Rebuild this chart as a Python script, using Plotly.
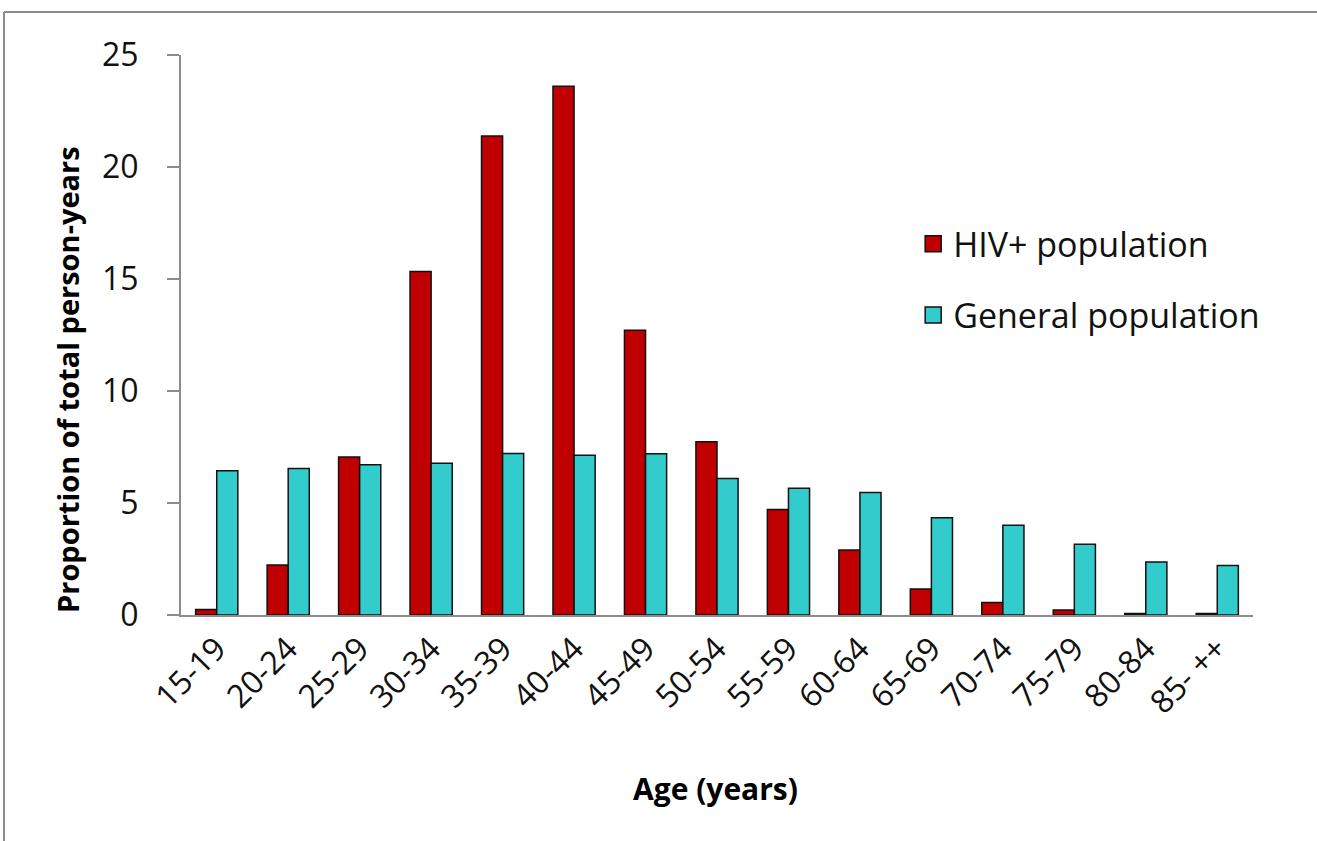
import plotly.graph_objects as go

# Age groups and share of total person-years (%) for each population
age_groups = ["15-19", "20-24", "25-29", "30-34", "35-39", "40-44", "45-49",
              "50-54", "55-59", "60-64", "65-69", "70-74", "75-79", "80-84", "85- ++"]
hiv_pos = [0.25, 2.23, 7.05, 15.34, 21.38, 23.61, 12.71,
           7.73, 4.71, 2.90, 1.16, 0.56, 0.22, 0.07, 0.07]
general = [6.44, 6.54, 6.71, 6.78, 7.21, 7.13, 7.20,
           6.09, 5.66, 5.47, 4.34, 4.01, 3.16, 2.37, 2.21]
series_names = ["HIV+ population", "General population"]
series_colors = ["#C00000", "#33CCCC"]

FONT = "Open Sans"
EDGE = "#111111"

fig = go.Figure()
for name, vals, col in zip(series_names, [hiv_pos, general], series_colors):
    fig.add_trace(go.Bar(
        x=age_groups, y=vals, name=name, showlegend=False,
        marker=dict(color=col, line=dict(color=EDGE, width=1.5)),
    ))

# Legend entries drawn as square swatches
for i, (name, col) in enumerate(zip(series_names, series_colors)):
    fig.add_trace(go.Scatter(
        x=[None], y=[None], mode="markers", name=name, legendgroup=f"g{i}",
        marker=dict(symbol="square", size=20, color=col, line=dict(color=EDGE, width=1.5)),
    ))

W, H = 1317, 841
L, R, T, B = 181, 64, 55, 226
PW, PH = W - L - R, H - T - B

fig.update_layout(
    width=W, height=H,
    margin=dict(l=L, r=R, t=T, b=B),
    paper_bgcolor="white", plot_bgcolor="white",
    barmode="group", bargap=0.41, bargroupgap=0.0,
    font=dict(family=FONT, color="#000000"),
    legend=dict(
        x=0.683, y=0.714, xanchor="left", yanchor="top",
        font=dict(family=FONT, size=34, color="#111111"),
        tracegroupgap=24, bgcolor="rgba(0,0,0,0)",
        itemsizing="trace",
    ),
    xaxis=dict(
        showline=True, linecolor="#8c8c8c", linewidth=2,
        ticks="", tickangle=-45,
        tickfont=dict(family=FONT, size=32, color="#111111"),
        showgrid=False,
    ),
    yaxis=dict(
        range=[0, 25], dtick=5, showline=True, linecolor="#8c8c8c", linewidth=2,
        ticks="outside", ticklen=12, tickcolor="#8c8c8c", tickwidth=2,
        tickfont=dict(family=FONT, size=32, color="#111111"),
        ticklabelstandoff=22,
        showgrid=False, zeroline=False,
    ),
    annotations=[
        dict(text="<b>Proportion of total person-years</b>", textangle=-90,
             xref="paper", yref="paper", x=(68 - L) / PW, y=(H - B - 380) / PH,
             xanchor="center", yanchor="middle", showarrow=False,
             font=dict(family=FONT, size=29, color="#000000")),
        dict(text="<b>Age (years)</b>",
             xref="paper", yref="paper", x=(715 - L) / PW, y=(H - B - 788) / PH,
             xanchor="center", yanchor="middle", showarrow=False,
             font=dict(family=FONT, size=30, color="#000000")),
    ],
)

# Outer frame around the chart area
fig.add_shape(type="line", xref="paper", yref="paper",
              x0=(4 - L) / PW, x1=(W - L) / PW,
              y0=(H - B - 12) / PH, y1=(H - B - 12) / PH,
              line=dict(color="#8c8c8c", width=2))
fig.add_shape(type="line", xref="paper", yref="paper",
              x0=(4 - L) / PW, x1=(4 - L) / PW,
              y0=(H - B - 12) / PH, y1=-B / PH,
              line=dict(color="#8c8c8c", width=2))

fig.write_html("out.html")
